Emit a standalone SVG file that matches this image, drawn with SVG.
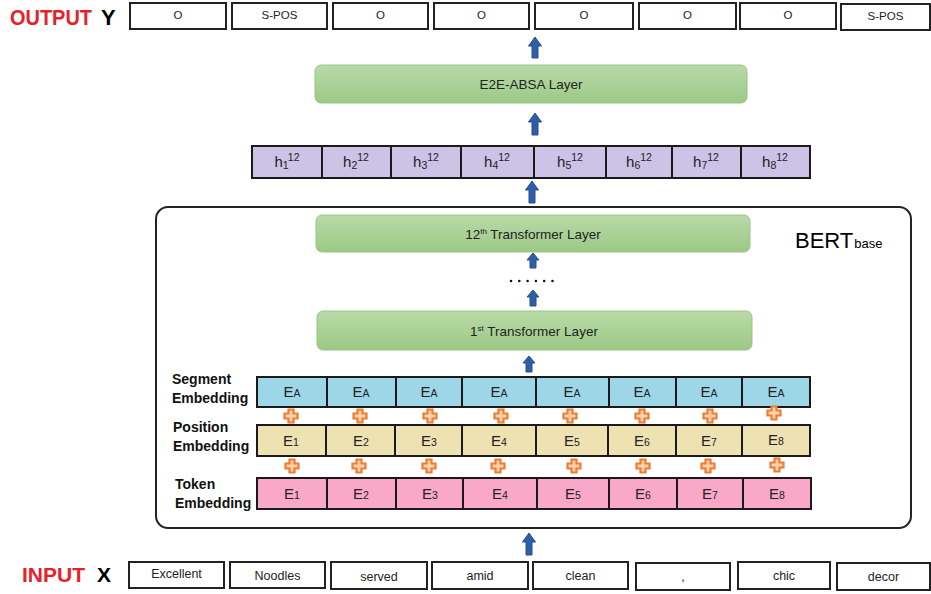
<svg xmlns="http://www.w3.org/2000/svg" width="931" height="594" viewBox="0 0 931 594">
<style>
text{font-family:"Liberation Sans","Open Sans",Arial,sans-serif;fill:#222}
.box{fill:#fff;stroke:#222;stroke-width:2}
.sm{font-size:11.5px}
.wd{font-size:12.5px}
.cell{stroke:#1a1a1a;stroke-width:2}
.h{fill:#cdc3e6}
.seg{fill:#9dd7e7}
.pos{fill:#eee1b2}
.tok{fill:#f9a9c7}
.lay{fill:url(#g);stroke:#9cc583;stroke-width:1}
.arr{fill:#2f5ea8;stroke:#2a4f8c;stroke-width:1}
.plus{fill:#fbd2b0;stroke:#ed7d31;stroke-width:2.2;stroke-linejoin:miter}
.et{font-size:15px}
.lbl{font-size:14px;font-weight:bold;fill:#111}
.lt{font-size:13.5px}
</style>
<defs>
<linearGradient id="g" x1="0" y1="0" x2="0" y2="1">
<stop offset="0" stop-color="#b9daa9"/>
<stop offset="1" stop-color="#9cc985"/>
</linearGradient>
<path id="plus" d="M-2.5,-6.5 h5 v4 h4 v5 h-4 v4 h-5 v-4 h-4 v-5 h4 z"/>
</defs>

<g id="output-label">
<text x="10" y="25" font-size="22" font-weight="bold" style="fill:#e8202a" textLength="82" lengthAdjust="spacingAndGlyphs">OUTPUT</text>
<text x="101" y="25" font-size="22" font-weight="bold" style="fill:#000">Y</text>
</g>
<g id="output-tags" class="sm" text-anchor="middle">
<rect class="box" x="130" y="3" width="96" height="26"/><text x="178" y="19">O</text>
<rect class="box" x="232" y="3" width="95" height="26"/><text x="279.5" y="19">S-POS</text>
<rect class="box" x="333" y="3" width="95" height="26"/><text x="380.5" y="19">O</text>
<rect class="box" x="434" y="3" width="95" height="26"/><text x="481.5" y="19">O</text>
<rect class="box" x="535" y="3" width="98" height="26"/><text x="584" y="19">O</text>
<rect class="box" x="639" y="3" width="97" height="26"/><text x="687.5" y="19">O</text>
<rect class="box" x="740" y="3" width="96" height="26"/><text x="788" y="19">O</text>
<rect class="box" x="841" y="4" width="89" height="26"/><text x="885.5" y="20">S-POS</text>
</g>

<g id="e2e-layer">
<rect class="lay" x="315" y="65" width="432" height="38" rx="6"/>
<text class="lt" x="531" y="89" text-anchor="middle">E2E-ABSA Layer</text>
</g>

<g id="hidden-states">
<rect class="cell h" x="252" y="146" width="558" height="32"/>
<path class="cell" fill="none" d="M322,146V178M391,146V178M461,146V178M534,146V178M606,146V178M672,146V178M741,146V178"/>
<g class="et" text-anchor="middle">
<text x="287" y="167">h<tspan font-size="10.5" dy="2">1</tspan><tspan font-size="10.5" dy="-8">12</tspan></text>
<text x="356" y="167">h<tspan font-size="10.5" dy="2">2</tspan><tspan font-size="10.5" dy="-8">12</tspan></text>
<text x="426" y="167">h<tspan font-size="10.5" dy="2">3</tspan><tspan font-size="10.5" dy="-8">12</tspan></text>
<text x="497" y="167">h<tspan font-size="10.5" dy="2">4</tspan><tspan font-size="10.5" dy="-8">12</tspan></text>
<text x="570" y="167">h<tspan font-size="10.5" dy="2">5</tspan><tspan font-size="10.5" dy="-8">12</tspan></text>
<text x="639" y="167">h<tspan font-size="10.5" dy="2">6</tspan><tspan font-size="10.5" dy="-8">12</tspan></text>
<text x="706" y="167">h<tspan font-size="10.5" dy="2">7</tspan><tspan font-size="10.5" dy="-8">12</tspan></text>
<text x="775" y="167">h<tspan font-size="10.5" dy="2">8</tspan><tspan font-size="10.5" dy="-8">12</tspan></text>
</g>
</g>

<g id="bert">
<rect x="156" y="207" width="755" height="321" rx="12" fill="none" stroke="#222" stroke-width="2"/>
<text x="795" y="248" font-size="22" style="fill:#000">BERT<tspan font-size="13" dx="1">base</tspan></text>
</g>

<g id="layer-12">
<rect class="lay" x="316" y="215" width="434" height="37" rx="6"/>
<text class="lt" x="533" y="239" text-anchor="middle">12<tspan font-size="8" dy="-5">th</tspan><tspan dy="5"> Transformer Layer</tspan></text>
</g>

<g id="dots" fill="#111">
<circle cx="511" cy="281" r="1.3"/><circle cx="519.3" cy="281" r="1.3"/><circle cx="527.6" cy="281" r="1.3"/><circle cx="535.9" cy="281" r="1.3"/><circle cx="544.2" cy="281" r="1.3"/><circle cx="552.5" cy="281" r="1.3"/>
</g>

<g id="layer-1">
<rect class="lay" x="317" y="311" width="435" height="39" rx="6"/>
<text class="lt" x="534" y="336" text-anchor="middle">1<tspan font-size="8" dy="-5">st</tspan><tspan dy="5"> Transformer Layer</tspan></text>
</g>

<g id="segment-embedding">
<text class="lbl" x="172" y="384">Segment</text>
<text class="lbl" x="172" y="403">Embedding</text>
<rect class="cell seg" x="257" y="377" width="553" height="30"/>
<path class="cell" fill="none" d="M327,377V407M396,377V407M462,377V407M536,377V407M609,377V407M676,377V407M742,377V407"/>
<g class="et" text-anchor="middle">
<text x="292" y="397">E<tspan font-size="10.5">A</tspan></text>
<text x="361" y="397">E<tspan font-size="10.5">A</tspan></text>
<text x="429" y="397">E<tspan font-size="10.5">A</tspan></text>
<text x="499" y="397">E<tspan font-size="10.5">A</tspan></text>
<text x="572" y="397">E<tspan font-size="10.5">A</tspan></text>
<text x="642" y="397">E<tspan font-size="10.5">A</tspan></text>
<text x="709" y="397">E<tspan font-size="10.5">A</tspan></text>
<text x="776" y="397">E<tspan font-size="10.5">A</tspan></text>
</g>
</g>

<g id="position-embedding">
<text class="lbl" x="173" y="432">Position</text>
<text class="lbl" x="173" y="451">Embedding</text>
<rect class="cell pos" x="257" y="425" width="553" height="31"/>
<path class="cell" fill="none" d="M326,425V456M395,425V456M462,425V456M536,425V456M608,425V456M676,425V456M742,425V456"/>
<g class="et" text-anchor="middle">
<text x="291" y="446">E<tspan font-size="10.5">1</tspan></text>
<text x="361" y="446">E<tspan font-size="10.5">2</tspan></text>
<text x="429" y="446">E<tspan font-size="10.5">3</tspan></text>
<text x="499" y="446">E<tspan font-size="10.5">4</tspan></text>
<text x="572" y="446">E<tspan font-size="10.5">5</tspan></text>
<text x="642" y="446">E<tspan font-size="10.5">6</tspan></text>
<text x="709" y="446">E<tspan font-size="10.5">7</tspan></text>
<text x="776" y="445">E<tspan font-size="10.5">8</tspan></text>
</g>
</g>

<g id="token-embedding">
<text class="lbl" x="175" y="489">Token</text>
<text class="lbl" x="175" y="508">Embedding</text>
<rect class="cell tok" x="257" y="478" width="554" height="31"/>
<path class="cell" fill="none" d="M327,478V509M396,478V509M463,478V509M537,478V509M609,478V509M677,478V509M743,478V509"/>
<g class="et" text-anchor="middle">
<text x="292" y="499">E<tspan font-size="10.5">1</tspan></text>
<text x="361" y="499">E<tspan font-size="10.5">2</tspan></text>
<text x="430" y="499">E<tspan font-size="10.5">3</tspan></text>
<text x="500" y="499">E<tspan font-size="10.5">4</tspan></text>
<text x="573" y="499">E<tspan font-size="10.5">5</tspan></text>
<text x="643" y="499">E<tspan font-size="10.5">6</tspan></text>
<text x="710" y="499">E<tspan font-size="10.5">7</tspan></text>
<text x="777" y="499">E<tspan font-size="10.5">8</tspan></text>
</g>
</g>

<g id="plus-signs" class="plus">
<use href="#plus" x="291" y="416"/><use href="#plus" x="360" y="416"/><use href="#plus" x="430" y="416"/><use href="#plus" x="501" y="416"/>
<use href="#plus" x="570" y="416"/><use href="#plus" x="642" y="416"/><use href="#plus" x="710" y="416"/><use href="#plus" x="774" y="413"/>
<use href="#plus" x="292" y="466"/><use href="#plus" x="359" y="466"/><use href="#plus" x="429" y="466"/><use href="#plus" x="498" y="466"/>
<use href="#plus" x="574" y="466"/><use href="#plus" x="643" y="466"/><use href="#plus" x="708" y="466"/><use href="#plus" x="777" y="465"/>
</g>

<g id="input-label">
<text x="22" y="582" font-size="21" font-weight="bold" style="fill:#e8202a" textLength="63" lengthAdjust="spacingAndGlyphs">INPUT</text>
<text x="97" y="582" font-size="21" font-weight="bold" style="fill:#000">X</text>
</g>
<g id="input-tokens" class="wd" text-anchor="middle">
<rect class="box" x="129" y="562" width="95" height="26"/><text x="176.5" y="578">Excellent</text>
<rect class="box" x="230" y="562" width="95" height="26"/><text x="277.5" y="580">Noodles</text>
<rect class="box" x="331" y="562" width="96" height="27"/><text x="379" y="581">served</text>
<rect class="box" x="432" y="562" width="96" height="27"/><text x="480" y="580">amid</text>
<rect class="box" x="533" y="562" width="95" height="27"/><text x="580.5" y="580">clean</text>
<rect class="box" x="636" y="563" width="94" height="27"/><text x="683" y="581">,</text>
<rect class="box" x="738" y="562" width="92" height="27"/><text x="784" y="580">chic</text>
<rect class="box" x="837" y="563" width="93" height="27"/><text x="883.5" y="581">decor</text>
</g>

<g id="connectors" class="arr">
<path d="M535,37 L541.5,46 L538,46 L538,58 L532,58 L532,46 L528.5,46 Z"/>
<path d="M535,113 L541.5,122 L538,122 L538,135 L532,135 L532,122 L528.5,122 Z"/>
<path d="M532,181 L538.5,190 L535,190 L535,203 L529,203 L529,190 L525.5,190 Z"/>
<path d="M533,253 L539,260 L536,260 L536,268 L530,268 L530,260 L527,260 Z"/>
<path d="M533,290 L539,297 L536,297 L536,306 L530,306 L530,297 L527,297 Z"/>
<path d="M529,356 L535,363 L532,363 L532,372 L526,372 L526,363 L523,363 Z"/>
<path d="M529,533 L535.5,542 L532,542 L532,555 L526,555 L526,542 L522.5,542 Z"/>
</g>
</svg>
